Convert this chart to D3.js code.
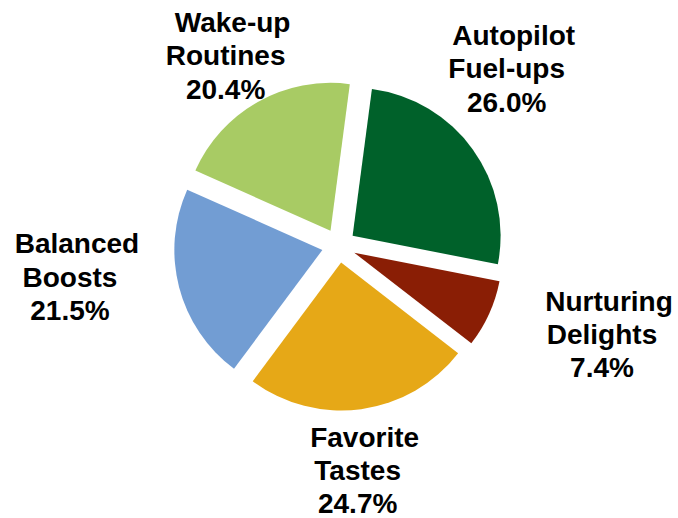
<!DOCTYPE html>
<html>
<head>
<meta charset="utf-8">
<script src="https://cdn.jsdelivr.net/npm/d3@7"></script>
<style>
  html, body { margin: 0; padding: 0; background: #ffffff; }
  svg { display: block; }
</style>
</head>
<body>
<svg id="chart" width="678" height="518"></svg>
<script>
// Breakfast occasion segments and their share (%)
const categories = ["Autopilot Fuel-ups", "Nurturing Delights", "Favorite Tastes", "Balanced Boosts", "Wake-up Routines"];
const shares = [26.0, 7.4, 24.7, 21.5, 20.4];
const colors = ["#00612a", "#8a1e05", "#e6a817", "#729dd3", "#a8cb64"];

// Label placement around the pie (polar: degrees clockwise from 12 o'clock, px from centre)
const labelAngles = [45.1, 110.5, 175.4, 261.3, 327.9];
const labelRadii = [237, 281, 235, 272, 213];

const width = 678, height = 518;
const cx = 338.8, cy = 245.7;
const radius = 148;
const explode = 17;
const startAngle = 7.5 * Math.PI / 180;
const fontSize = 28;
const lineGap = 33.4;
const firstLineShift = 7;

const svg = d3.select("#chart");
const g = svg.append("g").attr("transform", `translate(${cx},${cy})`);

const pie = d3.pie()
  .sort(null)
  .value(d => d.value)
  .startAngle(startAngle)
  .endAngle(startAngle + 2 * Math.PI);

const arc = d3.arc().innerRadius(0).outerRadius(radius);

const data = categories.map((c, i) => ({ name: c, value: shares[i], color: colors[i] }));
const arcs = pie(data);

// Exploded slices: each one is pushed out along its bisector
g.selectAll("path.slice")
  .data(arcs)
  .join("path")
  .attr("class", "slice")
  .attr("d", arc)
  .attr("fill", d => d.data.color)
  .attr("transform", d => {
    const mid = (d.startAngle + d.endAngle) / 2;
    return `translate(${explode * Math.sin(mid)},${-explode * Math.cos(mid)})`;
  });

// Data labels: category name (wrapped) and percentage
const labels = g.selectAll("text.label")
  .data(arcs)
  .join("text")
  .attr("class", "label")
  .attr("text-anchor", "middle")
  .style("font-family", "'Liberation Sans', Arial, sans-serif")
  .style("font-weight", "bold")
  .style("font-size", fontSize + "px")
  .attr("fill", "#000000");

labels.each(function (d, i) {
  const a = labelAngles[i] * Math.PI / 180;
  const x = labelRadii[i] * Math.sin(a);
  const y = -labelRadii[i] * Math.cos(a);
  const lines = d.data.name.split(" ").concat([d3.format(".1f")(d.data.value) + "%"]);
  d3.select(this).selectAll("tspan")
    .data(lines)
    .join("tspan")
    .attr("x", (t, j) => x + (j === 0 ? firstLineShift : 0))
    .attr("y", (t, j) => y + (j - 1) * lineGap)
    .text(t => t);
});
</script>
</body>
</html>
